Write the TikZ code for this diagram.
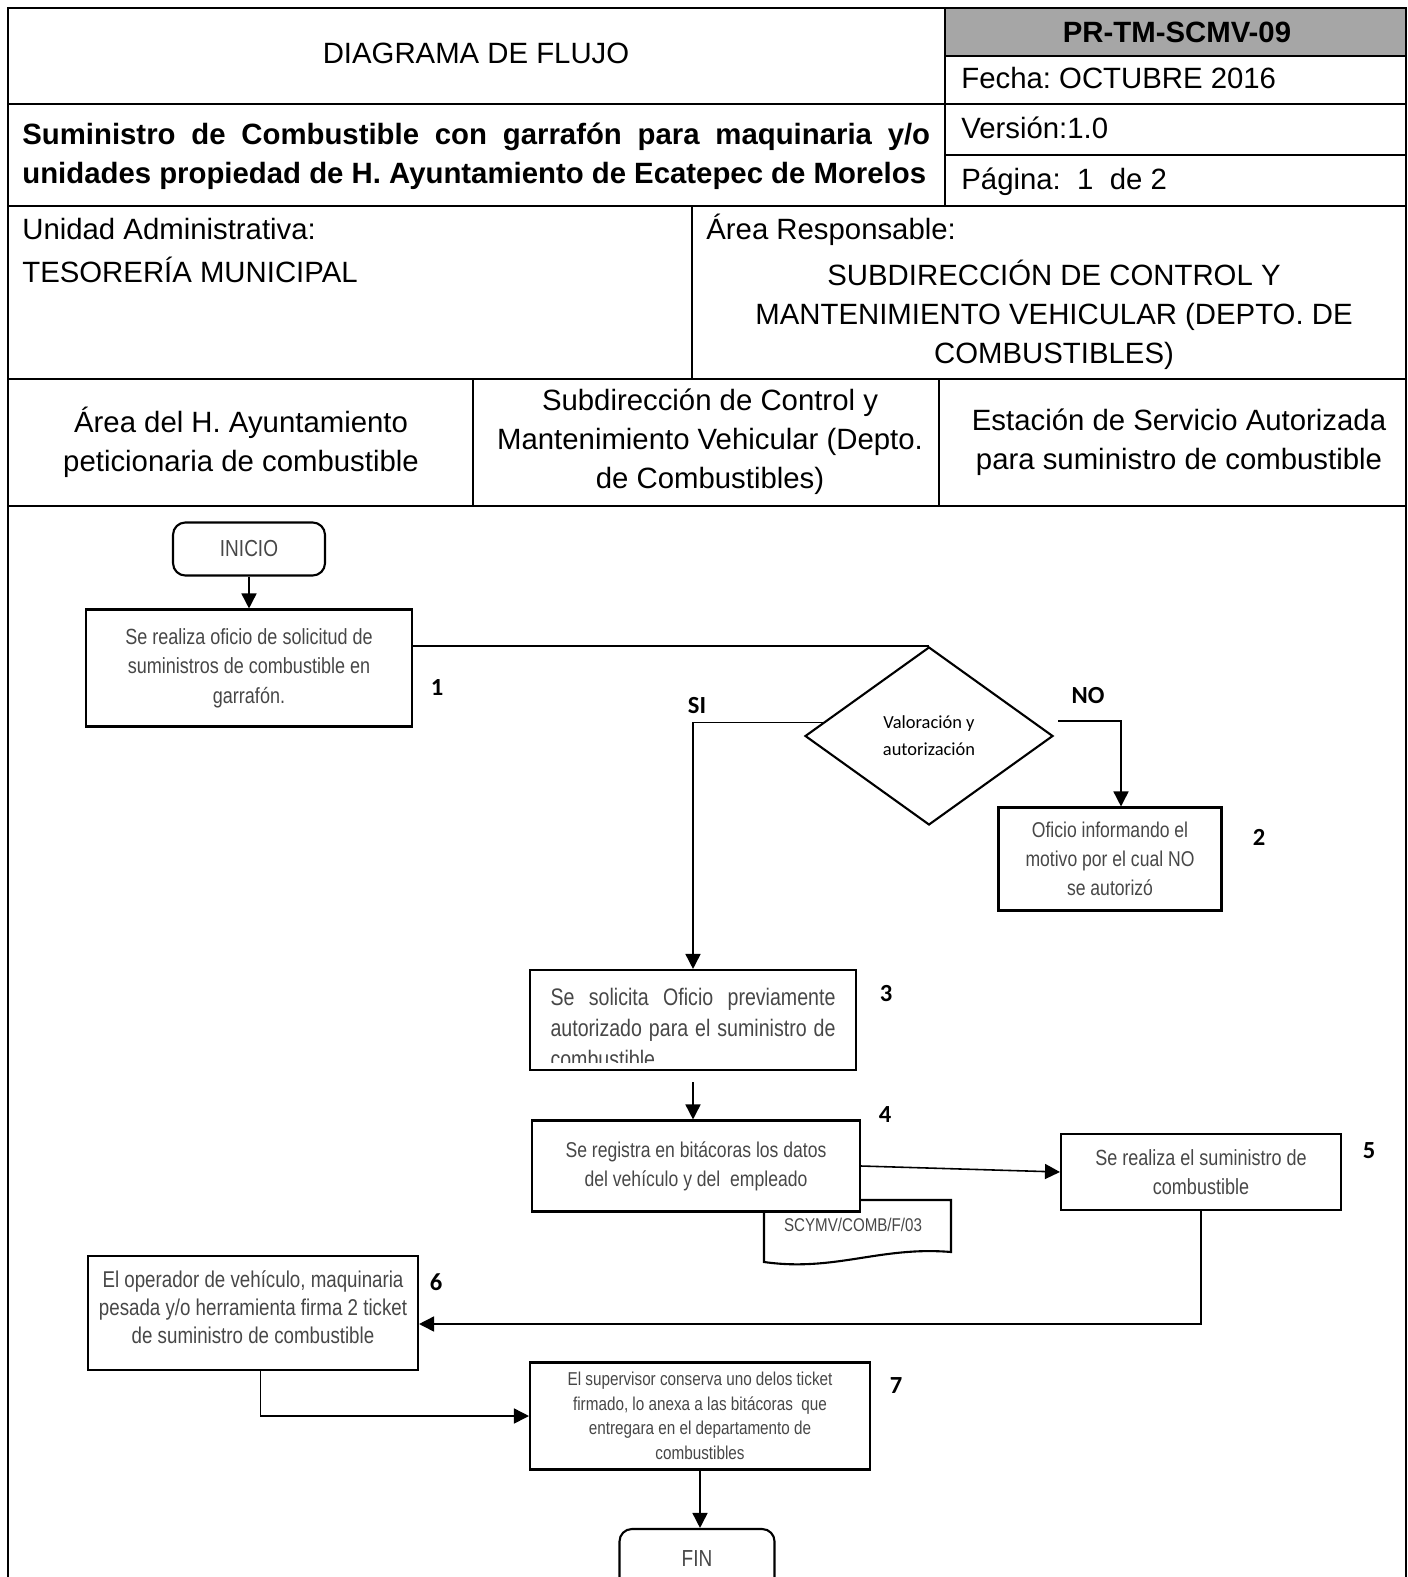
\documentclass[tikz,border=0pt]{standalone}
\usepackage{fontspec}
\setmainfont{Liberation Sans}
\newfontfamily\narrowsf[FakeStretch=0.82]{Liberation Sans}
\newfontfamily\calsf{Carlito}
\usetikzlibrary{arrows.meta,shapes.geometric,calc}
\definecolor{cellgray}{HTML}{A6A6A6}
\definecolor{boxtext}{HTML}{474747}
\newcommand{\hdrfont}{\fontsize{16.7}{22.2}\selectfont}
\newcommand{\stepno}[3]{\node[stepnum] (n#1) at (#2,#3) {#1};}
\tikzset{
  frame/.style={line width=1pt},
  heavy/.style={line width=1.7pt},
  hdr/.style={font=\hdrfont,inner sep=0pt},
  stepbox/.style={draw,line width=1.2pt,fill=white,text=boxtext,align=center,inner sep=0pt,
    font=\narrowsf\fontsize{12.5}{16.8}\selectfont},
  endbox/.style={stepbox,rounded corners=7pt,font=\narrowsf\fontsize{13.2}{16}\selectfont},
  decision/.style={diamond,draw,line width=1.2pt,inner sep=0pt,align=center,
    font=\calsf\fontsize{10.5}{15.4}\selectfont},
  stepnum/.style={font=\calsf\bfseries\fontsize{14}{14}\selectfont,inner sep=0pt},
  link/.style={line width=0.9pt},
  flow/.style={link,-{Triangle[length=3mm,width=3mm]}},
}

\begin{document}
\frenchspacing
\begin{tikzpicture}[x=0.02cm,y=-0.02cm]
  \clip (0,0) rectangle (1408,1577);
  \fill[white] (0,0) rectangle (1408,1577);
  % encabezado
  \fill[cellgray] (945,8) rectangle (1406,56);
  \draw[frame] (8,1577) -- (8,8) -- (1406,8) -- (1406,1577);
  \draw[frame] (8,104) -- (1406,104) (945,56) -- (1406,56) (945,155) -- (1406,155);
  \draw[frame] (945,8) -- (945,206);
  \draw[heavy] (8,206) -- (1406,206) (8,379) -- (1406,379) (8,506) -- (1406,506);
  \draw[frame] (692,206) -- (692,379);
  \draw[frame] (473,379) -- (473,506) (939,379) -- (939,506);

  \node[hdr,anchor=base] (diag) at (476,64) {DIAGRAMA DE FLUJO};
  \node[hdr,anchor=base,font=\hdrfont\bfseries] (clave) at (1177,43) {PR-TM-SCMV-09};
  \node[hdr,anchor=base west] (fecha) at (961,89) {Fecha: OCTUBRE 2016};
  \node[hdr,anchor=base west,text width=18.16cm,align=justify,font=\hdrfont\bfseries] (titulo) at (22,145)
    {Suministro de Combustible con garrafón para maquinaria y/o\linebreak
     unidades propiedad de H. Ayuntamiento de Ecatepec de Morelos};
  \node[hdr,anchor=base west] (version) at (961,139) {Versión:1.0};
  \node[hdr,anchor=base west] (pagina) at (961,190) {Página:\ \ 1\ \ de 2};
  \node[hdr,anchor=base west] (unidad) at (22,240) {Unidad Administrativa:};
  \node[hdr,anchor=base west] (tesoreria) at (22,283) {TESORERÍA MUNICIPAL};
  \node[hdr,anchor=base west] (area) at (706,240) {Área Responsable:};
  \node[hdr,align=center] (subdir) at (1054,315)
    {SUBDIRECCIÓN DE CONTROL Y\\MANTENIMIENTO VEHICULAR (DEPTO. DE\\COMBUSTIBLES)};
  \node[hdr,align=center] (lane1) at (241,442) {Área del H. Ayuntamiento\\peticionaria de combustible};
  \node[hdr,align=center] (lane2) at (710,442)
    {Subdirección de Control y\\Mantenimiento Vehicular (Depto.\\de Combustibles)};
  \node[hdr,align=center] (lane3) at (1179,442) {Estación de Servicio Autorizada\\para suministro de combustible};

  % diagrama
  \node[endbox,minimum width=3.04cm,minimum height=1.06cm] (inicio) at (249,549) {INICIO};
  \node[stepbox,minimum width=6.52cm,minimum height=2.34cm] (s1) at (249,668)
    {Se realiza oficio de solicitud de\\suministros de combustible en\\garrafón.};
  \node[decision,minimum width=4.96cm,minimum height=3.56cm] (dec) at (929,736) {Valoración y\\autorización};
  \node[stepbox,minimum width=4.46cm,minimum height=2.06cm,font=\narrowsf\fontsize{12.2}{16.5}\selectfont] (s2)
    at (1110,859) {Oficio informando el\\motivo por el cual NO\\se autorizó};
  \node[stepbox,minimum width=6.52cm,minimum height=2cm] (s3) at (693,1020) {};
  \begin{scope}
    \clip (s3.north west) rectangle ($(s3.south east)+(0,-9)$);
    \node[anchor=north,text width=5.7cm,align=justify,text=boxtext,inner sep=0pt,
      font=\narrowsf\fontsize{13.6}{17.6}\selectfont] (s3txt) at (693,988)
      {Se solicita Oficio previamente\linebreak autorizado para el suministro de\linebreak combustible};
  \end{scope}
  \draw[line width=1.2pt,fill=white] (764,1200) -- (951,1200) -- (951,1252)
    .. controls (880,1246) and (835,1272) .. (764,1262) -- cycle;
  \node[text=boxtext,inner sep=0pt,font=\narrowsf\fontsize{10.5}{12}\selectfont] (formato) at (853,1225) {SCYMV/COMB/F/03};
  \node[stepbox,minimum width=6.56cm,minimum height=1.82cm,font=\narrowsf\fontsize{12.2}{16.5}\selectfont] (s4)
    at (696,1166) {Se registra en bitácoras los datos\\del vehículo y del\ \ empleado};
  \node[stepbox,minimum width=5.6cm,minimum height=1.52cm] (s5) at (1201,1172)
    {Se realiza el suministro de\\combustible};
  \node[stepbox,minimum width=6.6cm,minimum height=2.28cm,font=\narrowsf\fontsize{13}{16}\selectfont,
    text depth=0.25cm] (s6)
    at (253,1313) {El operador de vehículo, maquinaria\\pesada y/o herramienta firma 2 ticket\\de suministro de combustible};
  \node[stepbox,minimum width=6.8cm,minimum height=2.14cm,font=\narrowsf\fontsize{10.6}{14}\selectfont] (s7)
    at (700,1416) {El supervisor conserva uno delos ticket\\firmado, lo anexa a las bitácoras\ \ que\\entregara en el departamento de\\combustibles};
  \node[endbox,minimum width=3.1cm,minimum height=1.2cm] (fin) at (697,1559) {FIN};

  \stepno{1}{437}{688} \stepno{2}{1259}{837} \stepno{3}{886}{994}
  \stepno{4}{885}{1115} \stepno{5}{1369}{1151} \stepno{6}{436}{1282}
  \stepno{7}{896}{1386}
  \node[stepnum] (si) at (697,706) {SI};
  \node[stepnum] (no) at (1088,696) {NO};

  \coordinate (siA) at ($(dec.west)!0.15!(dec.north)$);
  \coordinate (noA) at ([shift={(4,-15)}]dec.east);
  \draw[flow] (inicio) -- (s1);
  \draw[link] (s1.east |- dec.north) -- (dec.north);
  \draw[flow] (siA) -| (s3.north);
  \draw[flow] (noA) -| ([xshift=0.22cm]s2.north);
  \draw[flow,shorten <=0.22cm] (s3.south) -- (s3.south |- s4.north);
  \draw[flow] (s4.east) -- (s5.west);
  \draw[flow] (s5.south) |- ([yshift=-0.22cm]s6.east);
  \draw[flow] ([xshift=0.15cm]s6.south) |- (s7.west);
  \draw[flow] (s7.south) -- (s7.south |- fin.north);
\end{tikzpicture}
\end{document}
